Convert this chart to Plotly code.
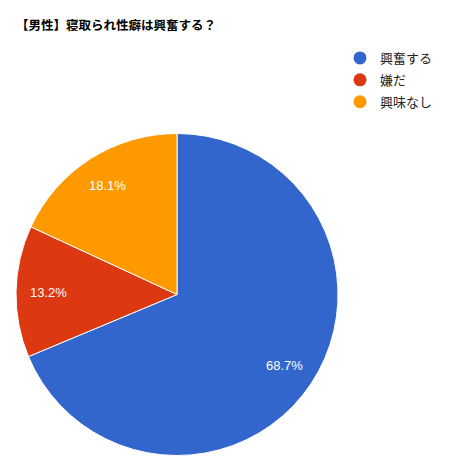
import math
import plotly.graph_objects as go

# 【男性】寝取られ性癖は興奮する？ の回答割合
labels = ["興奮する", "嫌だ", "興味なし"]
values = [68.7, 13.2, 18.1]
colors = ["#3366CC", "#DC3912", "#FF9900"]

# the page body has an 8px margin, so the figure is a bit smaller than the window
OFF = 8
W, H = 451 - OFF, 473 - OFF

# pie box in window pixels
px0, px1, py0, py1 = 16, 338, 133, 456
cx, cy = (px0 + px1) / 2 - OFF, (py0 + py1) / 2 - OFF
rad = (px1 - px0) / 2

fig = go.Figure()

fig.add_trace(go.Pie(
    labels=labels,
    values=values,
    sort=False,
    direction="clockwise",
    rotation=0,
    marker=dict(colors=colors, line=dict(color="white", width=1)),
    textinfo="none",
    showlegend=False,
    hoverinfo="label+percent",
    domain=dict(x=[(px0 - OFF) / W, (px1 - OFF) / W],
                y=[1 - (py1 - OFF) / H, 1 - (py0 - OFF) / H]),
))

# percentage labels, placed along each slice's bisector like Google Charts
total = sum(values)
cum = 0
for v in values:
    mid = (cum + v / 2) / total * 2 * math.pi
    cum += v
    lx = cx + 0.8 * rad * math.sin(mid)
    ly = cy - 0.8 * rad * math.cos(mid)
    fig.add_annotation(
        x=lx / W, y=1 - ly / H, xref="paper", yref="paper",
        xanchor="center", yanchor="middle",
        text=f"{v / total * 100:.1f}%", showarrow=False,
        font=dict(color="white", size=13, family="Liberation Sans, Arial"),
    )

# legend entries with round markers, like the original
for name, c in zip(labels, colors):
    fig.add_trace(go.Scatter(
        x=[None], y=[None], mode="markers", name=name, legendgroup=name,
        marker=dict(symbol="circle", size=13, color=c),
    ))

fig.update_layout(
    width=W, height=H,
    margin=dict(l=0, r=0, t=0, b=0),
    paper_bgcolor="white",
    plot_bgcolor="white",
    title=dict(
        text="<b>【男性】寝取られ性癖は興奮する？</b>",
        x=(16 - OFF) / W, xanchor="left",
        y=1 - (26 - OFF) / H, yanchor="middle",
        font=dict(size=12.5, color="#000000", family="Noto Sans CJK JP"),
    ),
    legend=dict(
        x=(340 - OFF) / W, xanchor="left",
        y=1 - (43 - OFF) / H, yanchor="top",
        font=dict(size=13, color="#222222", family="Noto Sans CJK JP"),
        itemwidth=30,
        tracegroupgap=2,
        bgcolor="rgba(0,0,0,0)",
    ),
    xaxis=dict(visible=False),
    yaxis=dict(visible=False),
)

fig.write_html("out.html")
